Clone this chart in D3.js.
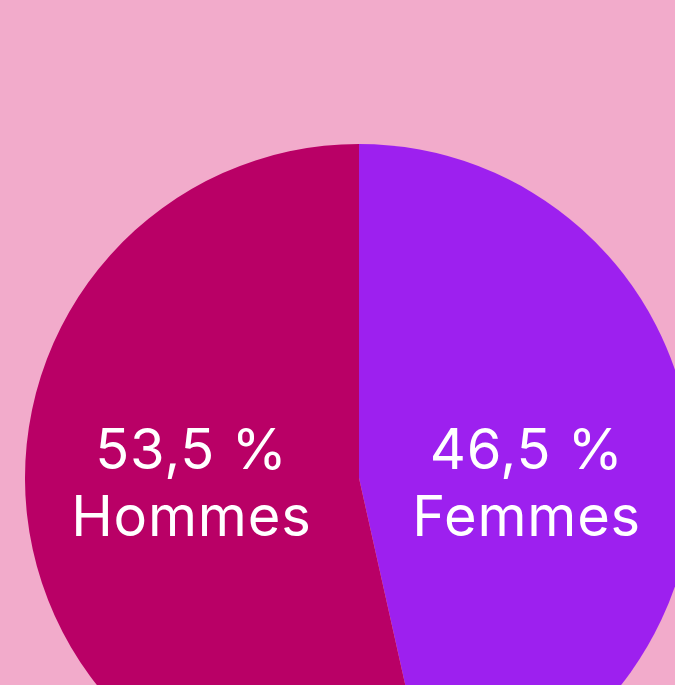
<!DOCTYPE html>
<html>
<head>
<meta charset="utf-8">
<script src="https://cdn.jsdelivr.net/npm/d3@7"></script>
<style>
  html, body { margin: 0; padding: 0; background: #f2abcb; overflow: hidden; }
  .label { font-family: "Inter", "Open Sans", sans-serif; fill: #fff; letter-spacing: 0.8px; }
</style>
</head>
<body>
<div id="chart"></div>
<script>
// share of each group, clockwise from 12 o'clock
const categories = ["Femmes", "Hommes"];
const shares = [46.5, 53.5];
const shareLabels = ["46,5 %", "53,5 %"];
const colors = ["#9d20ef", "#b90066"];

const width = 675, height = 685;
const cx = 359, cy = 478, radius = 334;

const svg = d3.select("#chart").append("svg")
    .attr("width", width)
    .attr("height", height);

const g = svg.append("g")
    .attr("transform", `translate(${cx},${cy})`);

const data = categories.map((c, i) => ({ name: c, value: shares[i], label: shareLabels[i], color: colors[i] }));

const pie = d3.pie()
    .sort(null)
    .value(d => d.value);

const arc = d3.arc()
    .innerRadius(0)
    .outerRadius(radius);

const labelArc = d3.arc()
    .innerRadius(radius * 0.505)
    .outerRadius(radius * 0.505);

const arcs = pie(data);

g.selectAll("path.slice")
    .data(arcs)
    .join("path")
    .attr("class", "slice")
    .attr("d", arc)
    .attr("fill", d => d.data.color);

// labels sit at the slice centroid horizontally, both on the same line height
const labels = g.selectAll("text.label")
    .data(arcs)
    .join("text")
    .attr("class", "label")
    .attr("text-anchor", "middle")
    .attr("font-size", 56)
    .attr("transform", d => `translate(${labelArc.centroid(d)[0]},0)`);

labels.append("tspan")
    .attr("x", 0)
    .attr("y", -9)
    .text(d => d.data.label);

labels.append("tspan")
    .attr("x", 0)
    .attr("y", 58)
    .text(d => d.data.name);
</script>
</body>
</html>
